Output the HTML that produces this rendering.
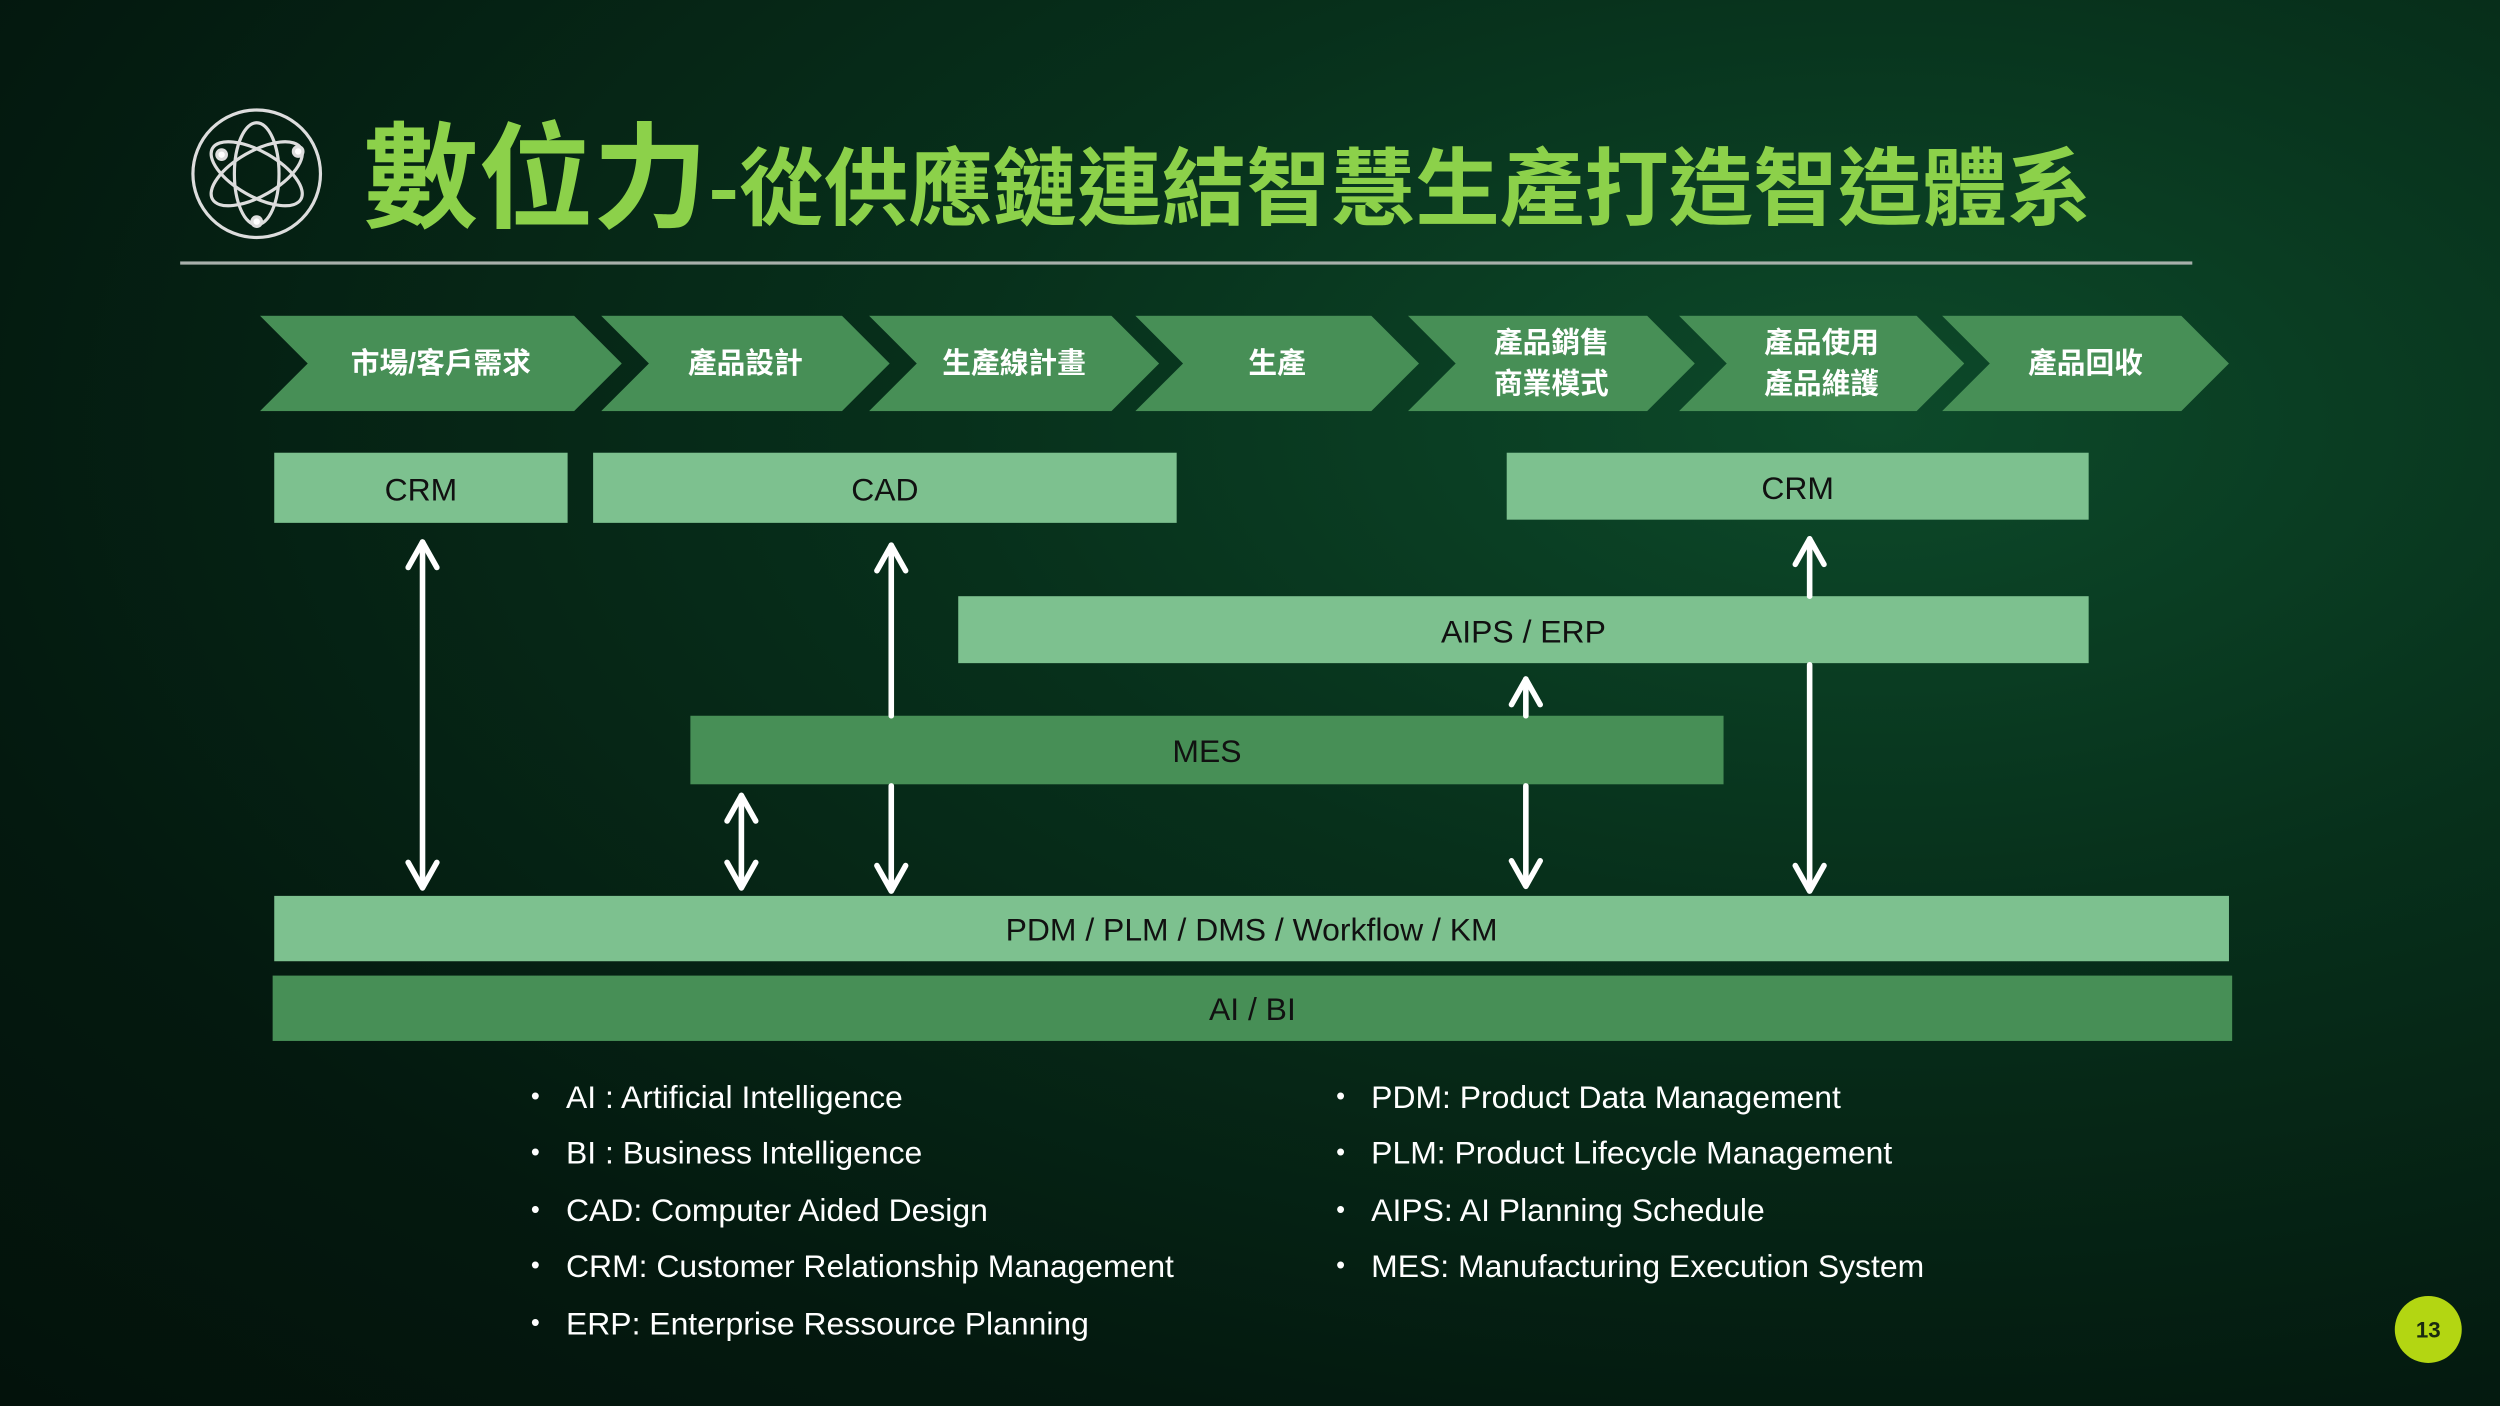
<!DOCTYPE html>
<html><head><meta charset="utf-8"><style>
html,body{margin:0;padding:0;width:2500px;height:1406px;overflow:hidden;background:#041a10}
#s{position:absolute;left:0;top:0;width:1568px;height:882px;transform:scale(1.5944,1.5941);transform-origin:0 0;
background:radial-gradient(ellipse at 75% 30%,#0d4a2a 0%,#07301b 35%,#04190f 75%,#03120b 100%);
font-family:"Liberation Sans","Noto Sans CJK TC",sans-serif;overflow:hidden}
.a{position:absolute}
.box{position:absolute;display:flex;align-items:center;justify-content:center;font-size:20px;color:#111;padding-top:4px;box-sizing:border-box}
.lt{background:#7dc18f}.dk{background:#478f56}
.chev{position:absolute;top:198px;height:60px;background:#478f56;display:flex;align-items:center;justify-content:center;color:#fff;font-weight:bold;font-size:18px;line-height:26px;text-align:center;clip-path:polygon(0 0,calc(100% - 30px) 0,100% 50%,calc(100% - 30px) 100%,0 100%,30px 50%)}
.li{position:absolute;font-size:20px;line-height:24px;color:#fff;white-space:nowrap}
.li:before{content:"•";position:absolute;left:-22px;top:0;font-size:16px;line-height:24px}
</style></head><body><div id="s">
<svg class="a" style="left:118px;top:66px" width="88" height="88" viewBox="0 0 88 88" fill="none" stroke="#ddd" stroke-width="2">
<circle cx="43" cy="43" r="40"/>
<ellipse cx="43" cy="43" rx="14" ry="32"/>
<ellipse cx="43" cy="43" rx="14" ry="32" transform="rotate(60 43 43)"/>
<ellipse cx="43" cy="43" rx="14" ry="32" transform="rotate(-60 43 43)"/>
<circle cx="21" cy="31" r="3" fill="#fff"/><circle cx="69" cy="29" r="3" fill="#fff"/><circle cx="43" cy="73" r="3" fill="#fff"/>
</svg>
<div class="a" style="left:228px;top:56px;color:#8cd14a;font-weight:bold;white-space:nowrap;font-family:'Noto Sans CJK TC',sans-serif;line-height:100px"><span style="font-size:72px">數位力</span><span style="font-size:53px">-從供應鏈連結智慧生產打造智造體系</span></div>
<div class="a" style="left:113px;top:164px;width:1262px;height:2px;background:#a8b0ab"></div>

<div class="chev" style="left:163px;width:227px">市場/客戶需求</div>
<div class="chev" style="left:377px;width:181px">產品設計</div>
<div class="chev" style="left:545px;width:182px">生產線計畫</div>
<div class="chev" style="left:712px;width:178px">生產</div>
<div class="chev" style="left:883px;width:180px">產品銷售<br>商業模式</div>
<div class="chev" style="left:1053px;width:179px">產品使用<br>產品維護</div>
<div class="chev" style="left:1218px;width:180px">產品回收</div>

<div class="box lt" style="left:172px;top:284px;width:184px;height:44px">CRM</div>
<div class="box lt" style="left:372px;top:284px;width:366px;height:44px">CAD</div>
<div class="box lt" style="left:945px;top:284px;width:365px;height:42px">CRM</div>
<div class="box lt" style="left:601px;top:374px;width:709px;height:42px">AIPS / ERP</div>
<div class="box dk" style="left:433px;top:449px;width:648px;height:43px">MES</div>
<div class="box lt" style="left:172px;top:562px;width:1226px;height:41px">PDM / PLM / DMS / Workflow / KM</div>
<div class="box dk" style="left:171px;top:612px;width:1229px;height:41px">AI / BI</div>

<svg class="a" style="left:0;top:0" width="1568" height="882" fill="none" stroke="#fff" stroke-width="3.5" stroke-linecap="round" stroke-linejoin="round">
<line x1="265" y1="340" x2="265" y2="556"/><polyline points="256,356 265,340 274,356"/><polyline points="256,541 265,557 274,541"/>
<line x1="559" y1="342" x2="559" y2="449"/><polyline points="550,358 559,342 568,358"/>
<line x1="559" y1="493" x2="559" y2="558"/><polyline points="550,543 559,559 568,543"/>
<line x1="465" y1="499" x2="465" y2="556"/><polyline points="456,515 465,499 474,515"/><polyline points="456,541 465,557 474,541"/>
<line x1="957" y1="426" x2="957" y2="449"/><polyline points="948,442 957,426 966,442"/>
<line x1="957" y1="493" x2="957" y2="555"/><polyline points="948,540 957,556 966,540"/>
<line x1="1135" y1="338" x2="1135" y2="374"/><polyline points="1126,354 1135,338 1144,354"/>
<line x1="1135" y1="417" x2="1135" y2="558"/><polyline points="1126,543 1135,559 1144,543"/>
</svg>

<div class="li" style="left:355px;top:677px">AI : Artificial Intelligence</div>
<div class="li" style="left:355px;top:712px">BI : Business Intelligence</div>
<div class="li" style="left:355px;top:748px">CAD: Computer Aided Design</div>
<div class="li" style="left:355px;top:783px">CRM: Customer Relationship Management</div>
<div class="li" style="left:355px;top:819px">ERP: Enterprise Ressource Planning</div>
<div class="li" style="left:860px;top:677px">PDM: Product Data Management</div>
<div class="li" style="left:860px;top:712px">PLM: Product Lifecycle Management</div>
<div class="li" style="left:860px;top:748px">AIPS: AI Planning Schedule</div>
<div class="li" style="left:860px;top:783px">MES: Manufacturing Execution System</div>

<div class="a" style="left:1502px;top:813px;width:42px;height:42px;border-radius:50%;background:#b3d612;color:#1a2a10;font-weight:bold;font-size:14px;display:flex;align-items:center;justify-content:center">13</div>
</div></body></html>
